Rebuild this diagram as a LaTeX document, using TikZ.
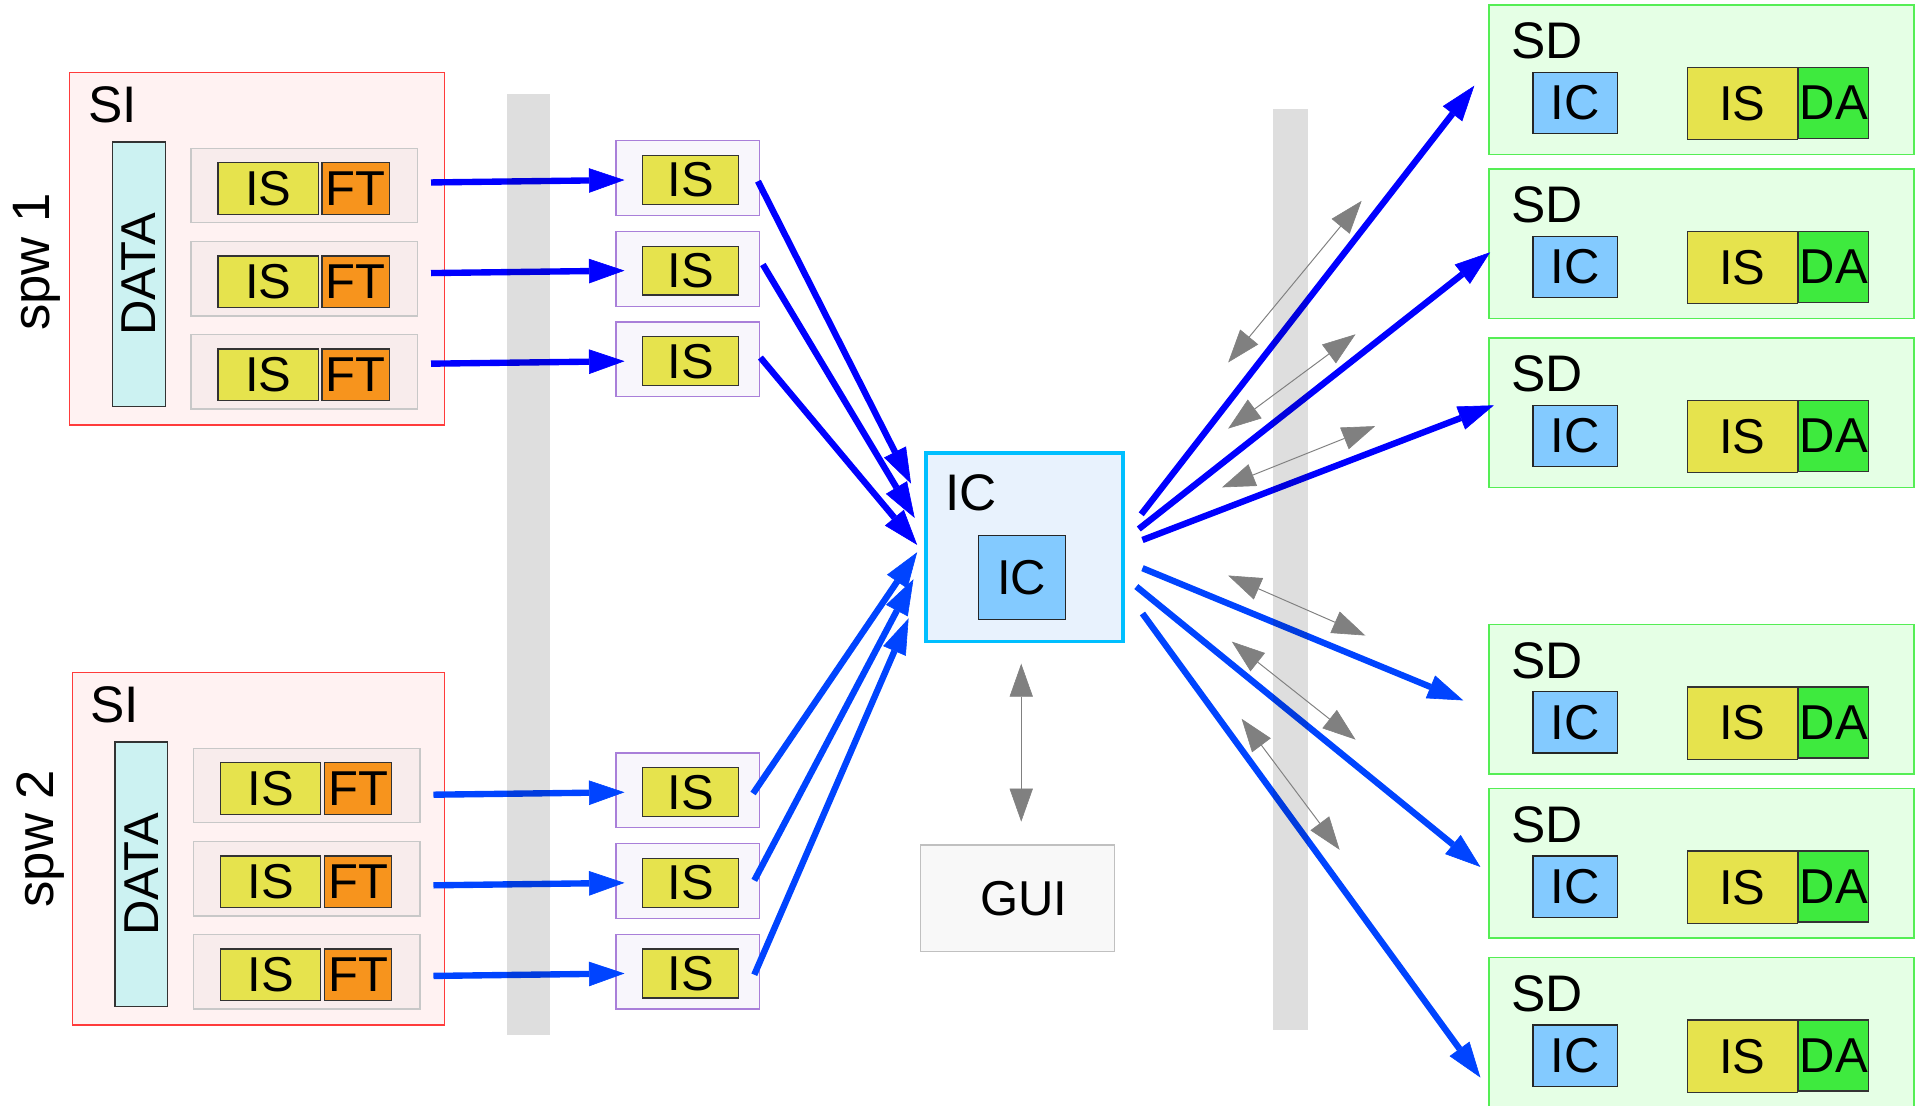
\documentclass[tikz,border=0pt]{standalone}
\usepackage{fontspec}
\setmainfont{Liberation Sans}
\usetikzlibrary{arrows.meta,calc}

\definecolor{siFill}{HTML}{FFF2F2}
\definecolor{siDraw}{HTML}{FF3B3B}
\definecolor{rowFill}{HTML}{F8ECEC}
\definecolor{rowDraw}{HTML}{C8C8C8}
\definecolor{isFill}{HTML}{E6E34D}
\definecolor{ftFill}{HTML}{F7941D}
\definecolor{dataFill}{HTML}{CCF2F2}
\definecolor{midFill}{HTML}{F8F6FC}
\definecolor{midDraw}{HTML}{A97FD9}
\definecolor{icDraw}{HTML}{00BFFF}
\definecolor{icFill}{HTML}{E8F2FD}
\definecolor{icIn}{HTML}{83CAFF}
\definecolor{guiFill}{HTML}{F8F8F8}
\definecolor{guiDraw}{HTML}{C0C0C0}
\definecolor{sdFill}{HTML}{E5FFE5}
\definecolor{sdDraw}{HTML}{55EE55}
\definecolor{daFill}{HTML}{3EEA3E}
\definecolor{blueA}{HTML}{0000FF}
\definecolor{blueB}{HTML}{0044FF}
\definecolor{grayArrow}{HTML}{808080}

\tikzset{
  every node/.style={inner sep=0pt, outer sep=0pt, font=\fontsize{40}{42}\selectfont},
  bx/.style={rectangle, anchor=north west},
  sibox/.style={bx, draw=siDraw, fill=siFill, line width=1pt},
  rowbox/.style={bx, draw=rowDraw, fill=rowFill, line width=1pt},
  isbox/.style={bx, draw=black!80, fill=isFill, line width=1pt},
  ftbox/.style={bx, draw=black!80, fill=ftFill, line width=1pt},
  databox/.style={bx, draw=black!80, fill=dataFill, line width=1pt},
  midbox/.style={bx, draw=midDraw, fill=midFill, line width=1pt},
  icbox/.style={bx, draw=icDraw, fill=icFill, line width=3pt},
  icin/.style={bx, draw=black!85, fill=icIn, line width=1pt},
  guibox/.style={bx, draw=guiDraw, fill=guiFill, line width=1pt},
  sdbox/.style={bx, draw=sdDraw, fill=sdFill, line width=1.2pt},
  dabox/.style={bx, draw=black!80, fill=daFill, line width=1pt},
  lbl/.style={anchor=base west, font=\fontsize{42}{44}\selectfont},
  flowA/.style={draw=blueA, line width=5.2pt, -{Triangle[length=29pt,width=20pt,line width=0.5pt]}},
  flowB/.style={flowA, draw=blueB},
  linkarrow/.style={draw=grayArrow, line width=0.8pt,
     {Triangle[length=27pt,width=19pt,line width=0.5pt]}-{Triangle[length=27pt,width=19pt,line width=0.5pt]}},
  barbg/.style={fill=black, fill opacity=0.13, draw=none},
}

% name, x, y, width, spw text, spw x, spw y
\newcommand\sigroup[7]{%
  \node[sibox, minimum width=#4pt, minimum height=288pt] (#1) at (#2,#3) {};
  \node[lbl] (#1lbl) at ({#2+15},{#3+41}) {SI};
  \node[databox, minimum width=43pt, minimum height=216pt] (#1data) at ({#2+35},{#3+57}) {};
  \node[rotate=90] (#1datatxt) at (#1data.center) {DATA};
  \node[rotate=90, font=\fontsize{43}{46}\selectfont] (#1spw) at (#6,#7) {#5};
  \foreach \i/\dy in {1/62,2/138,3/214} {
    \node[rowbox, minimum width=185pt, minimum height=61pt] (#1r\i) at ({#2+99},{#3+\dy}) {};
    \node[isbox, minimum width=82pt, minimum height=42pt] (#1is\i) at ({#2+121},{#3+\dy+12}) {IS};
    \node[ftbox, minimum width=55pt, minimum height=42pt] (#1ft\i) at ({#2+206},{#3+\dy+12}) {FT};
  }
}

\begin{document}
\begin{tikzpicture}[x=1pt,y=-1pt]
\useasboundingbox (0,0) rectangle (1568,903);

% source groups
\sigroup{a}{57}{59}{306}{spw 1}{30}{214}
\sigroup{b}{59}{549}{304}{spw 2}{33}{685}

% middle IS boxes
\foreach \i/\y in {1/115,2/189,3/263,4/615,5/689,6/763} {
  \node[midbox, minimum width=117pt, minimum height=61pt] (m\i) at (503,\y) {};
  \node[isbox, minimum width=78pt, minimum height=40pt] (mi\i) at (525,{\y+12}) {IS};
}

% central IC
\node[icbox, minimum width=161pt, minimum height=154pt] (ic) at (756,370) {};
\node[lbl] (iclbl) at (772,417) {IC};
\node[icin, minimum width=71pt, minimum height=69pt] (icin) at (799,437) {IC};

% GUI
\node[guibox, minimum width=158pt, minimum height=87pt] (gui) at (752,690) {\hspace*{10pt}GUI};

% SD boxes
\foreach \i/\y in {1/4,2/138,3/276,4/510,5/644,6/782} {
  \node[sdbox, minimum width=347pt, minimum height=122pt] (sd\i) at (1216,\y) {};
  \node[lbl] (sdlbl\i) at (1234,{\y+44}) {SD};
  \node[icin, minimum width=69pt, minimum height=50pt] (sdic\i) at (1252,{\y+55}) {IC};
  \node[isbox, minimum width=90pt, minimum height=59pt] (sdis\i) at (1378,{\y+51}) {IS};
  \node[dabox, minimum width=57pt, minimum height=58pt] (sdda\i) at (1469,{\y+51}) {DA};
}

% arrows source -> middle IS
\foreach \i/\dy in {1/-2.5,2/-4.5,3/-6.5}
  \draw[flowA] ($(ar\i.east)+(11,\dy)$) -- ($(m\i.west)+(7,1.5)$);
\foreach \i/\j/\dy in {1/4/7.5,2/5/5.5,3/6/3.5}
  \draw[flowB] ($(br\i.east)+(11,\dy)$) -- ($(m\j.west)+(7,1.5)$);

% arrows middle IS -> IC
\foreach \i/\sx/\sy/\tx/\ty in {1/-1/2.5/-12/-52, 2/3/-3.5/-9/-24, 3/1/-1.5/-7/-2}
  \draw[flowA] ($(m\i.east)+(\sx,\sy)$) -- ($(ic.west)+(\tx,\ty)$);
\foreach \i/\sx/\sy/\tx/\ty in {4/-5/2.5/-7/4, 5/-4/-0.5/-10/26, 6/-4/2.5/-14/58}
  \draw[flowB] ($(m\i.east)+(\sx,\sy)$) -- ($(ic.west)+(\tx,\ty)$);

% arrows IC -> SD
\foreach \i/\sx/\sy/\tx/\ty in {1/15/-27/-12/5, 2/13/-15/1/7, 3/16/-6/4/-6}
  \draw[flowA] ($(ic.east)+(\sx,\sy)$) -- ($(sd\i.west)+(\tx,\ty)$);
\foreach \i/\sx/\sy/\tx/\ty in {4/16/17/-21/1, 5/11/32/-7/3, 6/16/54/-7/37}
  \draw[flowB] ($(ic.east)+(\sx,\sy)$) -- ($(sd\i.west)+(\tx,\ty)$);

% gray bars
\path[barbg] (414,77) rectangle (449,845);
\path[barbg] (1040,89) rectangle (1068,841);

% gray double arrows
\coordinate (g1a) at (1003,296); \coordinate (g1b) at (1112,164);
\coordinate (g2a) at (1003,350); \coordinate (g2b) at (1107,273);
\coordinate (g3a) at (998,398);  \coordinate (g3b) at (1123,348);
\coordinate (g4a) at (1003,470); \coordinate (g4b) at (1115,519);
\coordinate (g5a) at (1006,524); \coordinate (g5b) at (1107,604);
\coordinate (g6a) at (1014,587); \coordinate (g6b) at (1094,694);
\foreach \i in {1,...,6}
  \draw[linkarrow] (g\i a) -- (g\i b);
\draw[linkarrow] ($(ic.south)+(-2.5,18)$) -- ($(gui.north)+(3,-19)$);

\end{tikzpicture}
\end{document}
